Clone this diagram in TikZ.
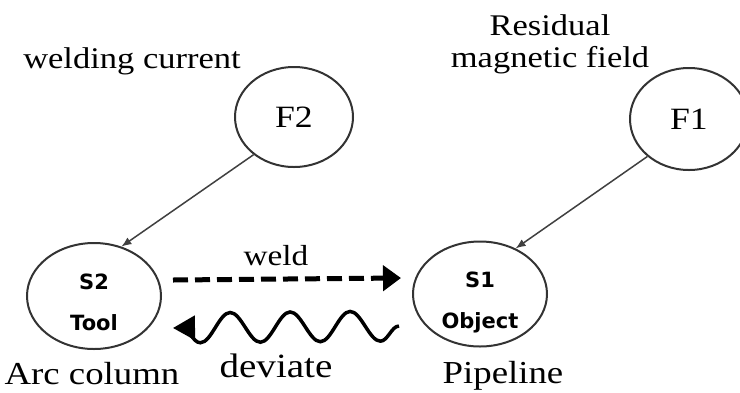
\documentclass[tikz,border=0pt]{standalone}
\usepackage{fontspec}
\setmainfont{Liberation Serif}
\newfontfamily\lblfont[FakeStretch=1.15]{Liberation Serif}
\newfontfamily\boxfont{DejaVu Sans}
\usetikzlibrary{shapes.geometric,arrows.meta,decorations.pathmorphing}

\begin{document}
\begin{tikzpicture}[x=1pt,y=-1pt,
  state/.style={ellipse,draw=black!80,line width=2pt,inner sep=0pt},
  force/.style={state,minimum width=118pt,minimum height=100pt,font=\lblfont\fontsize{31}{32}\selectfont},
  part/.style={state,minimum width=134pt,minimum height=106pt,align=center,text height=68pt,text depth=0pt,font=\boxfont\bfseries\fontsize{21}{41}\selectfont},
  lbltext/.style={anchor=base,font=\lblfont\fontsize{#1}{32}\selectfont},
  lbltext/.default=30,
  link/.style={draw=black!75,line width=1.5pt,-{Latex[length=10pt,width=8pt]}},
  weldline/.style={line width=5pt,dash pattern=on 15pt off 7pt,-{Triangle[length=18pt,width=25pt]}},
  deviateline/.style={line width=3.5pt,decorate,decoration={snake,segment length=60pt,amplitude=15pt,post length=4pt},-{Triangle[length=22pt,width=24pt]}}]

\useasboundingbox (0,0) rectangle (740,392);

\node[force] (F2) at (294,117) {F2};
\node[force,minimum height=102pt] (F1) at (689,119) {F1};
\node[part] (S2) at (94,296) {S2\\Tool};
\node[part,minimum height=105pt] (S1) at (480,294) {S1\\Object};

\node[lbltext] (current) at (132,68) {welding current};
\node[lbltext,align=center] (residual) at (550,67) {Residual\\magnetic field};
\node[lbltext=29] (weld) at (276,265) {weld};
\node[lbltext=34] (deviate) at (276,377) {deviate};
\node[lbltext=32] (arc) at (92,384) {Arc column};
\node[lbltext=32] (pipe) at (503,383) {Pipeline};

\draw[link] (F2.223) -- (S2.61);
\draw[link] (F1.222) -- (S1.52);
\draw[weldline] ([xshift=11pt,yshift=16pt]S2.east) -- ([xshift=-11pt,yshift=16pt]S1.west);
\draw[deviateline] ([xshift=-13pt,yshift=-32pt]S1.west) -- ([xshift=11pt,yshift=-32pt]S2.east);
\end{tikzpicture}
\end{document}
